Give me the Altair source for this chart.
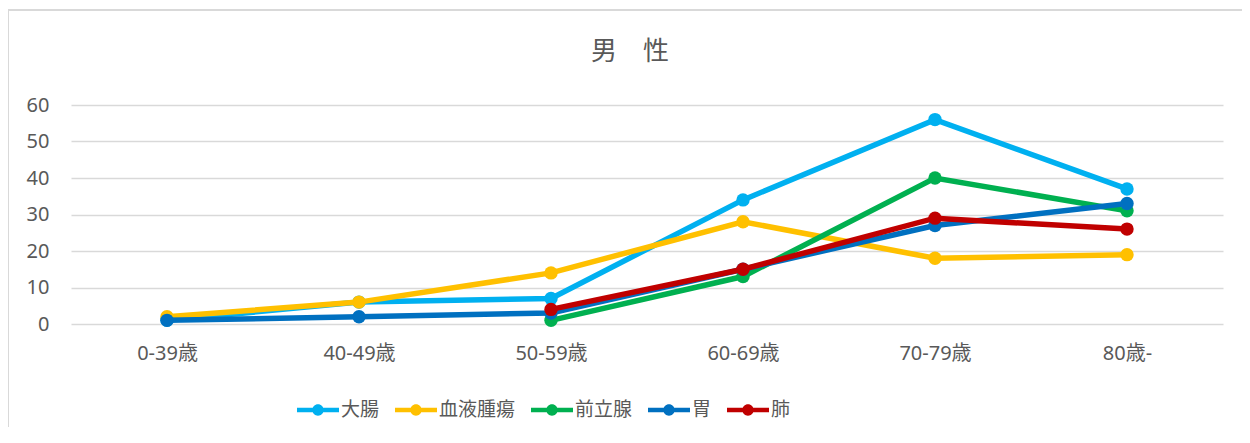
import altair as alt
import pandas as pd

ages = ["0-39歳", "40-49歳", "50-59歳", "60-69歳", "70-79歳", "80歳-"]
series_names = ["大腸", "血液腫瘍", "前立腺", "胃", "肺"]
colors = ["#00B0F0", "#FFC000", "#00B050", "#0070C0", "#C00000"]

daicho = [1, 6, 7, 34, 56, 37]
ketsueki = [2, 6, 14, 28, 18, 19]
zenritsusen = [None, None, 1, 13, 40, 31]
i_stomach = [1, 2, 3, 15, 27, 33]
hai = [None, None, 4, 15, 29, 26]
title_text = ["男　性"]

all_vals = [daicho, ketsueki, zenritsusen, i_stomach, hai]
rows = []
for name, vals in zip(series_names, all_vals):
    for a, v in zip(ages, vals):
        if v is not None:
            rows.append({"age": a, "series": name, "value": v})
df = pd.DataFrame(rows)

FONT = "Noto Sans, Noto Sans CJK JP"
TXT = "#595959"

color_scale = alt.Scale(domain=series_names, range=colors)
x_enc = alt.X("age:N", sort=ages, scale=alt.Scale(type="point", padding=0.5),
              axis=alt.Axis(title=None, labelAngle=0, ticks=False, domain=False, grid=False,
                            labelFontSize=20, labelColor=TXT, labelFont=FONT, labelPadding=19))
y_enc = alt.Y("value:Q", scale=alt.Scale(domain=[0, 60], nice=False),
              axis=alt.Axis(title=None, values=[0, 10, 20, 30, 40, 50, 60], ticks=False, domain=False,
                            gridColor="#D9D9D9", gridWidth=1.3,
                            labelFontSize=20, labelColor=TXT, labelFont=FONT, labelPadding=22))

legend_path = ("M-1,-0.11H1V0.11H-1Z "
               "M-0.27,0A0.27,0.27 0 1,1 0.27,0A0.27,0.27 0 1,1 -0.27,0Z")

layers = []
for i, name in enumerate(series_names):
    base = alt.Chart(df).transform_filter(alt.datum.series == name)
    if i == 0:
        leg = alt.Legend(title=None, orient="none", direction="horizontal",
                         legendX=226, legendY=284, symbolType=legend_path, symbolSize=1764,
                         symbolStrokeWidth=0, labelFontSize=19, labelColor=TXT, labelFont=FONT,
                         columnPadding=15, labelOffset=2)
        col = alt.Color("series:N", scale=color_scale, legend=leg)
    else:
        col = alt.Color("series:N", scale=color_scale)
    line = base.mark_line(strokeWidth=5.5).encode(x=x_enc, y=y_enc, color=col)
    pts = base.mark_point(filled=True, size=180, opacity=1).encode(x=x_enc, y=y_enc, color=col)
    layers += [line, pts]

# outer chart border (left and top edges)
border_v = alt.Chart(pd.DataFrame({"k": [0]})).mark_rule(color="#D9D9D9", strokeWidth=2).encode(
    x=alt.value(-63), y=alt.value(-95), y2=alt.value(340))
border_h = alt.Chart(pd.DataFrame({"k": [0]})).mark_rule(color="#D9D9D9", strokeWidth=2).encode(
    x=alt.value(-63), x2=alt.value(1171), y=alt.value(-95))

title = alt.Chart(pd.DataFrame({"t": title_text})).mark_text(
    font=FONT, fontSize=26, color=TXT, align="center", baseline="middle"
).encode(text="t:N", x=alt.value(559), y=alt.value(-53))

chart = alt.layer(border_v, border_h, *layers, title).properties(
    width=1152, height=219,
    padding={"left": 63, "top": 97, "right": 19, "bottom": 103},
    autosize=alt.AutoSizeParams(type="none"),
).configure_view(stroke=None)

chart.save("out.html", embed_options={"renderer": "svg", "actions": False})
